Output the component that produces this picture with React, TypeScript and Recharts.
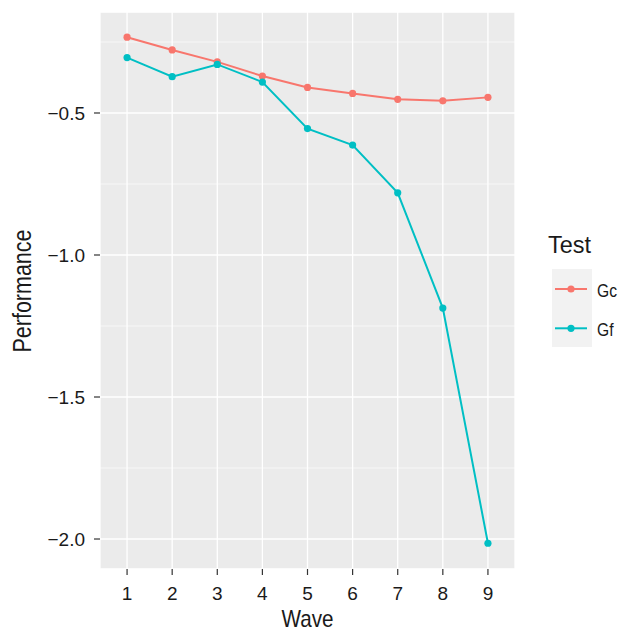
import React from 'react';
import { LineChart, Line, XAxis, YAxis, CartesianGrid, Label } from 'recharts';

// Wave 1..9, performance per test
const waves = [1, 2, 3, 4, 5, 6, 7, 8, 9];
const gcValues = [-0.233, -0.278, -0.32, -0.37, -0.41, -0.431, -0.452, -0.457, -0.445];
const gfValues = [-0.305, -0.372, -0.329, -0.391, -0.555, -0.613, -0.781, -1.187, -2.015];
const yMajorTicks = [-2.0, -1.5, -1.0, -0.5];
const yMinorTicks = [-1.75, -1.25, -0.75, -0.25];
const tests = [
  { key: 'Gc', color: '#F8766D' },
  { key: 'Gf', color: '#00BFC4' },
];

const data = waves.map((w, i) => ({ wave: w, Gc: gcValues[i], Gf: gfValues[i] }));

const FONT = '"Liberation Sans", Arial, sans-serif';
const PANEL_BG = '#EBEBEB';
const TEXT = '#1a1a1a';

const fmt = (v: number) => (v < 0 ? '\u2212' + Math.abs(v).toFixed(1) : v.toFixed(1));

// legend drawn beside the panel, like ggplot's guide box
const TestLegend = () => (
  <svg width={81} height={140} style={{ position: 'absolute', left: 540, top: 220, fontFamily: FONT }}>
    <text x={8} y={33} fontSize={24} textLength={43} lengthAdjust="spacingAndGlyphs" fill={TEXT}>
      Test
    </text>
    <rect x={12} y={49} width={40} height={78} fill="#F2F2F2" />
    {tests.map((t, i) => {
      const cy = 69 + i * 39.3;
      return (
        <g key={t.key}>
          <line x1={15} x2={47} y1={cy} y2={cy} stroke={t.color} strokeWidth={2} />
          <circle cx={31} cy={cy} r={3.6} fill={t.color} />
          <text
            x={57}
            y={cy + 7.5}
            fontSize={18}
            textLength={t.key === 'Gc' ? 20 : 16.5}
            lengthAdjust="spacingAndGlyphs"
            fill={TEXT}
          >
            {t.key}
          </text>
        </g>
      );
    })}
  </svg>
);

export default function App() {
  return (
    <div style={{ position: 'absolute', left: 0, top: 0, width: 621, height: 632, background: '#fff' }}>
      <LineChart
        width={621}
        height={632}
        data={data}
        margin={{ top: 12, right: 106, bottom: 0, left: 0 }}
        style={{ fontFamily: FONT }}
      >
        <CartesianGrid fill={PANEL_BG} stroke="#ffffff" strokeWidth={1.3} />
        <CartesianGrid yAxisId="minor" vertical={false} fillOpacity={0} stroke="#ffffff" strokeWidth={0.6} />
        <XAxis
          dataKey="wave"
          type="number"
          domain={[0.4, 9.6]}
          ticks={waves}
          allowDataOverflow
          height={63}
          axisLine={false}
          tickSize={6}
          tickMargin={12}
          tickLine={{ stroke: '#333', strokeWidth: 1.2 }}
          tick={{ fontSize: 19, fill: TEXT, fontFamily: FONT }}
        >
          <Label
            content={() => (
              <text
                x={307.5}
                y={627}
                textAnchor="middle"
                fontSize={24}
                textLength={52}
                lengthAdjust="spacingAndGlyphs"
                fill={TEXT}
                fontFamily={FONT}
              >
                Wave
              </text>
            )}
          />
        </XAxis>
        <YAxis
          type="number"
          domain={[-2.1056, -0.1444]}
          ticks={yMajorTicks}
          allowDataOverflow
          width={100}
          axisLine={false}
          tickSize={6}
          tickMargin={9}
          tickLine={{ stroke: '#333', strokeWidth: 1.2 }}
          tickFormatter={fmt}
          tick={{ fontSize: 19, fill: TEXT, fontFamily: FONT }}
        >
          <Label
            content={() => (
              <text
                x={31}
                y={291}
                transform="rotate(-90, 31, 291)"
                textAnchor="middle"
                fontSize={25}
                textLength={123}
                lengthAdjust="spacingAndGlyphs"
                fill={TEXT}
                fontFamily={FONT}
              >
                Performance
              </text>
            )}
          />
        </YAxis>
        <YAxis yAxisId="minor" type="number" domain={[-2.1056, -0.1444]} ticks={yMinorTicks} allowDataOverflow hide />
        {tests.map((t) => (
          <Line
            key={t.key}
            dataKey={t.key}
            stroke={t.color}
            strokeWidth={2}
            dot={{ r: 3.6, fill: t.color, stroke: 'none' }}
            activeDot={false}
            isAnimationActive={false}
          />
        ))}
      </LineChart>
      <TestLegend />
    </div>
  );
}
